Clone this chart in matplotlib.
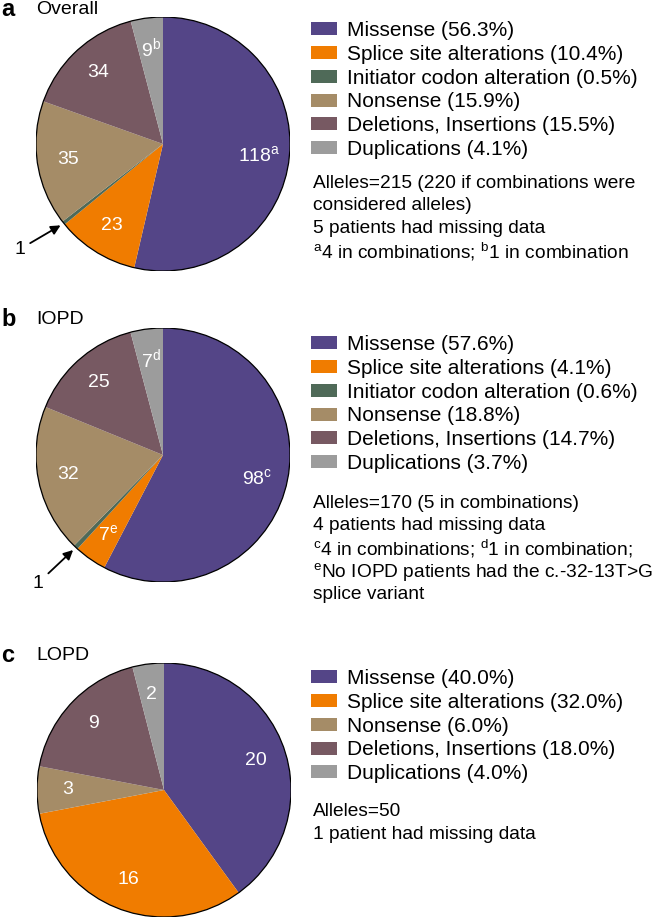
import matplotlib
matplotlib.use("Agg")
import matplotlib.pyplot as plt
import matplotlib.patches as mpatches
import numpy as np

plt.rcParams['font.family'] = ['Liberation Sans', 'DejaVu Sans']
plt.rcParams['mathtext.fontset'] = 'custom'
plt.rcParams['mathtext.rm'] = 'Liberation Sans'
plt.rcParams['mathtext.it'] = 'Liberation Sans'

# data
cats_a = ["Missense", "Splice site alterations", "Initiator codon alteration",
          "Nonsense", "Deletions, Insertions", "Duplications"]
vals_a = [118, 23, 1, 35, 34, 9]
sup_a = ["a", "", "", "", "", "b"]
pct_a = ["56.3%", "10.4%", "0.5%", "15.9%", "15.5%", "4.1%"]

cats_b = cats_a
vals_b = [98, 7, 1, 32, 25, 7]
sup_b = ["c", "e", "", "", "", "d"]
pct_b = ["57.6%", "4.1%", "0.6%", "18.8%", "14.7%", "3.7%"]

cats_c = ["Missense", "Splice site alterations", "Nonsense",
          "Deletions, Insertions", "Duplications"]
vals_c = [20, 16, 3, 9, 2]
sup_c = ["", "", "", "", ""]
pct_c = ["40.0%", "32.0%", "6.0%", "18.0%", "4.0%"]

colors6 = ['#544587', '#F07C00', '#4F6A58', '#A58C67', '#775962', '#9C9C9C']
colors5 = ['#544587', '#F07C00', '#A58C67', '#775962', '#9C9C9C']

notes_a = ["Alleles=215 (220 if combinations were",
           "considered alleles)",
           "5 patients had missing data",
           r"$\mathregular{^a}$4 in combinations; $\mathregular{^b}$1 in combination"]
notes_b = ["Alleles=170 (5 in combinations)",
           "4 patients had missing data",
           r"$\mathregular{^c}$4 in combinations; $\mathregular{^d}$1 in combination;",
           r"$\mathregular{^e}$No IOPD patients had the c.-32-13T>G",
           "splice variant"]
notes_c = ["Alleles=50",
           "1 patient had missing data"]

W, H = 656, 918
fig = plt.figure(figsize=(W / 100, H / 100), dpi=100)
FS = 14
LFS = 15
NFS = 13.8


def label(v, s):
    if s:
        return r"$\mathregular{%d^{%s}}$" % (v, s)
    return str(v)


def panel(letter, title, cats, vals, sups, pcts, colors, cx, cy, r,
          ty, leg_top, note_y, one_xy=None):
    ax = fig.add_axes([(cx - r) / W, 1 - (cy + r) / H, 2 * r / W, 2 * r / H])
    wedges, texts = ax.pie(vals, colors=colors, startangle=90, counterclock=False,
                           labels=[label(v, s) for v, s in zip(vals, sups)],
                           labeldistance=0.76,
                           wedgeprops=dict(linewidth=0),
                           textprops=dict(color='white', fontsize=FS))
    for t, v in zip(texts, vals):
        t.set_ha('center')
        t.set_va('center')
        if v == 1:
            t.set_visible(False)
    ax.add_patch(mpatches.Circle((0, 0), 1, fill=False, ec='black', lw=0.9))
    ax.set_xlim(-1, 1)
    ax.set_ylim(-1, 1)
    ax.axis('off')

    if one_xy is not None:
        idx = vals.index(1)
        w = wedges[idx]
        ang = np.deg2rad((w.theta1 + w.theta2) / 2)
        ax.annotate('1', xy=(1.03 * np.cos(ang), 1.03 * np.sin(ang)),
                    xytext=one_xy, textcoords='offset pixels',
                    fontsize=FS, ha='center', va='center',
                    arrowprops=dict(arrowstyle='-|>', color='black', lw=1.3,
                                    mutation_scale=14, shrinkA=2, shrinkB=0),
                    annotation_clip=False)

    fig.text(1 / W, 1 - ty / H, letter, fontsize=17, fontweight='bold',
             ha='left', va='center')
    fig.text(36 / W, 1 - ty / H, title, fontsize=FS, ha='left', va='center')

    ax.legend(wedges, ["%s (%s)" % (c, p) for c, p in zip(cats, pcts)],
              loc='upper left', bbox_to_anchor=(311 / W, 1 - leg_top / H),
              bbox_transform=fig.transFigure, frameon=False, fontsize=LFS,
              borderpad=0, borderaxespad=0, handlelength=1.25,
              handleheight=0.58, handletextpad=0.48, labelspacing=0.23)

    for i, line in enumerate(note_y[1]):
        fig.text(313 / W, 1 - (note_y[0] + i * 22.9) / H, line, fontsize=NFS,
                 ha='left', va='center')


panel('a', 'Overall', cats_a, vals_a, sup_a, pct_a, colors6, 163, 144, 127,
      10, 21, (183, notes_a), one_xy=(-41, -24))
panel('b', 'IOPD', cats_b, vals_b, sup_b, pct_b, colors6, 163, 455, 127,
      319, 335, (503, notes_b), one_xy=(-35, -33))
panel('c', 'LOPD', cats_c, vals_c, sup_c, pct_c, colors5, 164, 790, 127,
      655, 669, (812, notes_c))

fig.savefig('out.png', dpi=100)
